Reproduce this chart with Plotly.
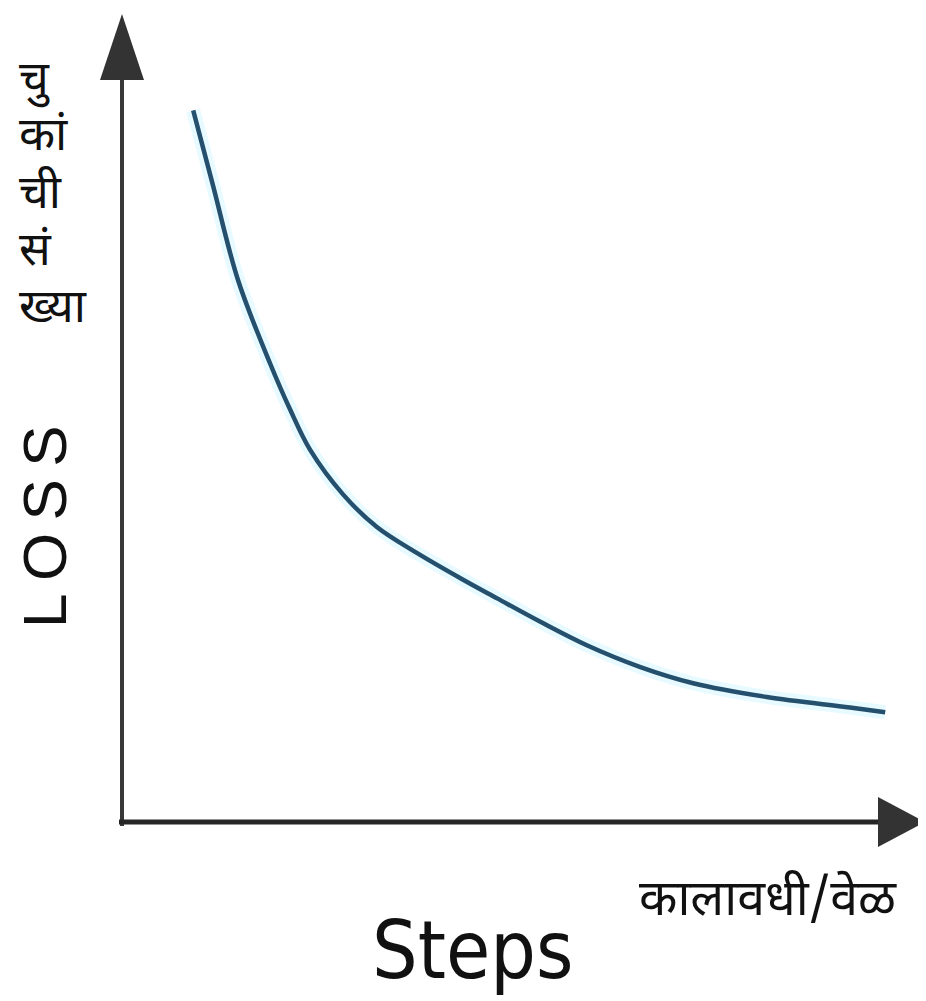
import plotly.graph_objects as go

# ---- data ----
steps = [8.9, 11.3, 14.5, 18.5, 21.0, 23.5, 27.6, 31.9, 36.9, 42.3, 46.9, 52.3, 58.1, 64.8, 71.4, 80.6, 91.0, 95.4]
loss = [88.2, 79.2, 67.2, 56.9, 51.2, 46.2, 40.7, 36.6, 33.4, 30.3, 27.8, 24.9, 22.0, 19.3, 17.3, 15.6, 14.3, 13.7]

y_title_lines = ["चु", "कां", "ची", "सं", "ख्या"]
y_title_en = "L\u2009O\u2009S\u2009S"
x_title_mr = "कालावधी/वेळ"
x_title_en = "Steps"

# page body has an 8px margin; the figure is sized so that it fills the window
OFF = 8
W, H = 926 - OFF, 1001 - OFF


def fx(px):
    return (px - OFF) / W


def fy(py):
    return 1 - (py - OFF) / H


DEV = "Noto Sans Devanagari, Noto Sans, sans-serif"

fig = go.Figure()
# soft glow
fig.add_trace(go.Scatter(x=steps, y=loss, mode="lines",
                         line=dict(color="rgba(210,245,255,0.55)", width=14, shape="spline"),
                         hoverinfo="skip", showlegend=False))
fig.add_trace(go.Scatter(x=steps, y=loss, mode="lines",
                         line=dict(color="#24506e", width=4.5, shape="spline"),
                         showlegend=False))

shapes = [
    dict(type="line", xref="paper", yref="paper", x0=fx(122), x1=fx(122), y0=fy(826), y1=fy(70),
         line=dict(color="#383838", width=4)),
    dict(type="line", xref="paper", yref="paper", x0=fx(119), x1=fx(885), y0=fy(822), y1=fy(822),
         line=dict(color="#262626", width=5)),
    dict(type="path", xref="paper", yref="paper",
         path=f"M {fx(122)},{fy(14)} L {fx(144)},{fy(80)} L {fx(100)},{fy(80)} Z",
         fillcolor="#333333", line=dict(width=0)),
    dict(type="path", xref="paper", yref="paper",
         path=f"M {fx(925)},{fy(822)} L {fx(878)},{fy(797)} L {fx(878)},{fy(847)} Z",
         fillcolor="#333333", line=dict(width=0)),
]

annotations = []
line_centers = [82, 139, 196, 253, 310]
for txt, cy in zip(y_title_lines, line_centers):
    annotations.append(dict(text=txt, xref="paper", yref="paper", x=fx(17), y=fy(cy),
                            xanchor="left", yanchor="middle", showarrow=False,
                            font=dict(family=DEV, size=47, color="#111111")))
annotations.append(dict(text=y_title_en, xref="paper", yref="paper", x=fx(44), y=fy(527),
                        xanchor="center", yanchor="middle", showarrow=False, textangle=-90,
                        font=dict(family="Liberation Sans, Arial, sans-serif", size=62, color="#111111")))
annotations.append(dict(text=x_title_mr, xref="paper", yref="paper", x=fx(768), y=fy(902),
                        xanchor="center", yanchor="middle", showarrow=False,
                        font=dict(family=DEV, size=50, color="#111111")))
annotations.append(dict(text=x_title_en, xref="paper", yref="paper", x=fx(472), y=fy(950),
                        xanchor="center", yanchor="middle", showarrow=False,
                        font=dict(family="Liberation Sans Narrow, DejaVu Sans Condensed, Roboto, sans-serif",
                                  size=80, color="#111111")))

fig.update_layout(
    width=W, height=H,
    margin=dict(l=0, r=0, t=0, b=0),
    paper_bgcolor="white", plot_bgcolor="white",
    xaxis=dict(domain=[fx(122), fx(922)], range=[0, 100], visible=False, fixedrange=True),
    yaxis=dict(domain=[fy(823), fy(15)], range=[0, 100], visible=False, fixedrange=True),
    shapes=shapes, annotations=annotations,
)

fig.write_html("out.html")
